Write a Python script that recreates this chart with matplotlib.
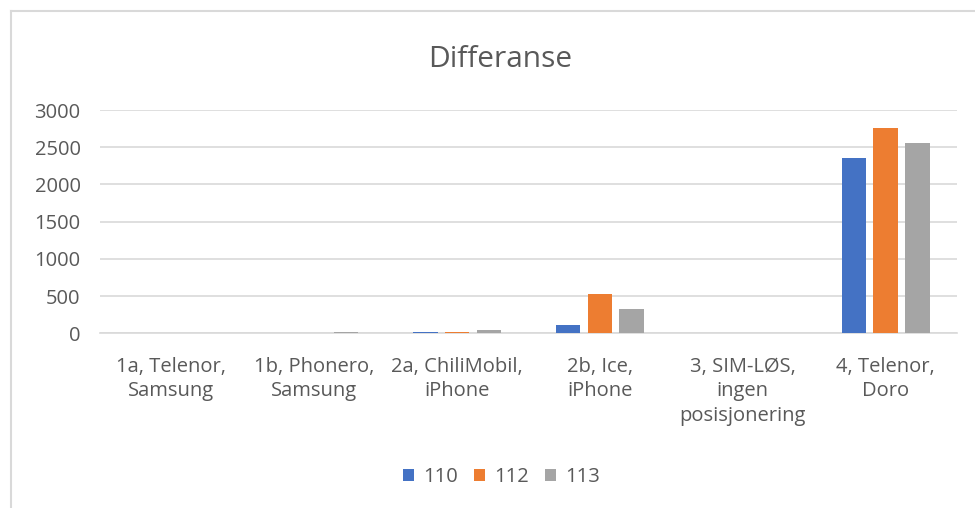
import matplotlib.pyplot as plt
import numpy as np

categories = ["1a, Telenor,\nSamsung", "1b, Phonero,\nSamsung", "2a, ChiliMobil,\niPhone",
              "2b, Ice,\niPhone", "3, SIM-LØS,\ningen\nposisjonering", "4, Telenor,\nDoro"]
series_names = ["110", "112", "113"]
s110 = [0, 0, 22, 118, 0, 2360]
s112 = [0, 0, 20, 527, 0, 2755]
s113 = [0, 22, 40, 320, 0, 2552]
colors = ["#4472C4", "#ED7D31", "#A5A5A5"]

plt.rcParams['font.family'] = ['Open Sans', 'DejaVu Sans']
W, H = 975, 508

fig = plt.figure(figsize=(W / 100, H / 100), dpi=100)
ax = fig.add_axes([100 / W, 1 - 333.3 / H, 857 / W, 223.3 / H])

x = np.arange(len(categories))
w = 0.172
step = 0.222
for i, (vals, name) in enumerate(zip([s110, s112, s113], series_names)):
    ax.bar(x + (i - 1) * step, vals, w, color=colors[i], label=name, zorder=3)

ax.set_xlim(-0.5, len(categories) - 0.5)
ax.set_ylim(0, 3000)
ax.set_yticks(range(0, 3001, 500))
ax.yaxis.grid(True, color="#D9D9D9", linewidth=1.2, zorder=0)
ax.set_xticks(x)
ax.set_xticklabels(categories, color="#595959", fontsize=14.5, linespacing=1.3)
ax.tick_params(axis="y", colors="#595959", labelsize=14.5, length=0, pad=14)
ax.tick_params(axis="x", length=0, pad=17)
for s in ["top", "right", "left"]:
    ax.spines[s].set_visible(False)
ax.spines["bottom"].set_color("#D9D9D9")
ax.spines["bottom"].set_linewidth(1.2)

fig.text(500 / W, 1 - 66.7 / H, "Differanse", ha="center", va="baseline",
         fontsize=21.5, color="#595959")

leg = fig.legend(loc="center", bbox_to_anchor=(502 / W, 1 - 477 / H), ncol=3,
                 frameon=False, fontsize=14.5, handlelength=0.5, handleheight=0.5,
                 handletextpad=0.5, columnspacing=0.8)
for t in leg.get_texts():
    t.set_color("#595959")

# chart area border (top and left edges visible)
fig.add_artist(plt.Line2D([11 / W, 1], [1 - 11 / H, 1 - 11 / H], transform=fig.transFigure,
                          color="#D9D9D9", linewidth=1.5))
fig.add_artist(plt.Line2D([11 / W, 11 / W], [0, 1 - 11 / H], transform=fig.transFigure,
                          color="#D9D9D9", linewidth=1.5))

fig.savefig("out.png", dpi=100)
